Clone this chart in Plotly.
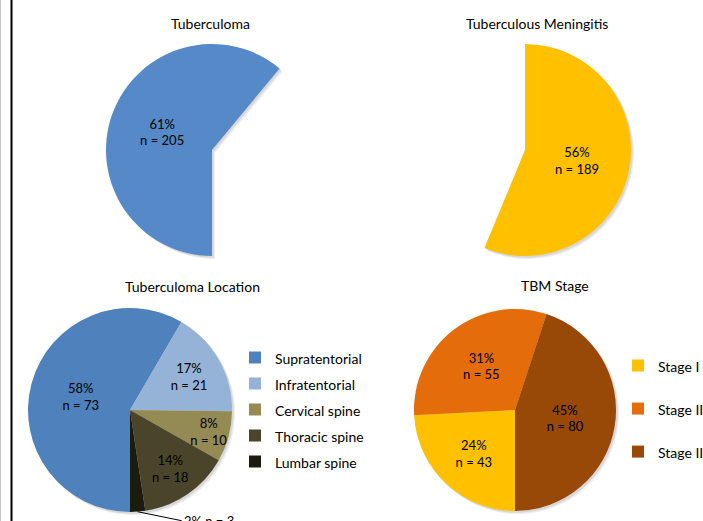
import math
import plotly.graph_objects as go

W, H = 703, 521
FONT = "Lato"

# ---------------- data ----------------
total_patients = 336
tb_title = "Tuberculoma"
tb_value = 205
tbm_title = "Tuberculous Meningitis"
tbm_value = 189

loc_title = "Tuberculoma Location"
loc_labels = ["Supratentorial", "Infratentorial", "Cervical spine", "Thoracic spine", "Lumbar spine"]
loc_values = [73, 21, 10, 18, 3]
loc_colors = ["#4F81BD", "#95B3D7", "#948A54", "#4A452A", "#1D1B10"]

stage_title = "TBM Stage"
stage_labels = ["Stage I", "Stage II", "Stage III"]
stage_values = [43, 55, 80]
stage_colors = ["#FFC000", "#E46C0A", "#984807"]

tb_color = "#5689C8"
tbm_color = "#FFC000"

TMPL = "%{percent:.0%}<br>n = %{value}"


def dom(cx, cy, r, dx=0, dy=0):
    cx += dx
    cy += dy
    return dict(x=[(cx - r) / W, (cx + r) / W], y=[1 - (cy + r) / H, 1 - (cy - r) / H])


LOC_GEO = (130, 410, 102)
LOC_ROT = 180

pies = [
    dict(values=[tb_value, total_patients - tb_value], colors=[tb_color, "rgba(0,0,0,0)"],
         tmpl=[TMPL, ""], rot=180, geo=(212, 150, 106),
         labels=[tb_title, "other"], legend=None),
    dict(values=[tbm_value, total_patients - tbm_value], colors=[tbm_color, "rgba(0,0,0,0)"],
         tmpl=[TMPL, ""], rot=0, geo=(525, 150, 106),
         labels=[tbm_title, "other"], legend=None),
    dict(values=loc_values, colors=loc_colors,
         tmpl=[TMPL] * 4 + [""], rot=LOC_ROT, geo=LOC_GEO, labels=loc_labels, legend="legend"),
    dict(values=stage_values, colors=stage_colors,
         tmpl=[TMPL] * 3, rot=180, geo=(515, 410, 101),
         labels=stage_labels, legend="legend2"),
]

fig = go.Figure()

# soft shadows
for p in pies:
    for off, a in ((3.0, 0.07), (1.8, 0.09)):
        cols = ["rgba(0,0,0,0)" if c.startswith("rgba(0,0,0,0)") else "rgba(0,0,0,%s)" % a
                for c in p["colors"]]
        fig.add_trace(go.Pie(
            values=p["values"], labels=p["labels"], sort=False, direction="clockwise",
            rotation=p["rot"], domain=dom(*p["geo"], dx=off, dy=off),
            marker=dict(colors=cols, line=dict(width=0)),
            textinfo="none", hoverinfo="skip", showlegend=False,
        ))

for p in pies:
    if p["legend"] == "legend":
        labs = ["<span style='font-size:14px'>%s</span>" % s for s in p["labels"]]
    elif p["legend"] == "legend2":
        labs = ["<span style='font-size:14px'>%s</span><br> " % s for s in p["labels"]]
    else:
        labs = p["labels"]
    kw = dict(legend=p["legend"]) if p["legend"] else {}
    fig.add_trace(go.Pie(
        values=p["values"], labels=labs, sort=False, direction="clockwise",
        rotation=p["rot"], domain=dom(*p["geo"]),
        marker=dict(colors=p["colors"], line=dict(width=0)),
        texttemplate=p["tmpl"], textposition="inside",
        insidetextorientation="horizontal",
        textfont=dict(family=FONT, size=13, color="#000000"),
        hoverinfo="skip", showlegend=p["legend"] is not None, **kw,
    ))

titles = [(tb_title, 210, 24), (tbm_title, 537, 24), (loc_title, 192, 286), (stage_title, 555, 285)]
annotations = [
    dict(text=t, x=x / W, y=1 - y / H, xref="paper", yref="paper", showarrow=False,
         xanchor="center", yanchor="middle", font=dict(family=FONT, size=14, color="#000000"))
    for t, x, y in titles
]

# leader-line label for the small lumbar slice, anchored at the slice's mid-angle on the rim
loc_total = sum(loc_values)
mid_frac = (sum(loc_values[:-1]) + loc_values[-1] / 2) / loc_total
ang = math.radians(LOC_ROT + 360 * mid_frac)
cx, cy, r = LOC_GEO
px, py = cx + r * math.sin(ang), cy - r * math.cos(ang)
annotations.append(dict(
    text="%d%% n = %d" % (round(100 * loc_values[-1] / loc_total), loc_values[-1]),
    x=px / W, y=1 - py / H, xref="paper", yref="paper",
    showarrow=True, arrowhead=0, arrowwidth=1, arrowcolor="#000000",
    ax=44, ay=9, xanchor="left", yanchor="middle",
    font=dict(family=FONT, size=13, color="#000000"),
))

fig.update_layout(
    width=W, height=H,
    margin=dict(l=0, r=0, t=0, b=0, autoexpand=False),
    paper_bgcolor="white", plot_bgcolor="white",
    annotations=annotations,
    uniformtext=dict(minsize=13, mode="show"),
    legend=dict(x=235 / W, y=1 - 410 / H, xanchor="left", yanchor="middle",
                font=dict(family=FONT, size=17.7, color="#000000"),
                bgcolor="rgba(0,0,0,0)", traceorder="normal"),
    legend2=dict(x=618 / W, y=1 - 419 / H, xanchor="left", yanchor="middle",
                 font=dict(family=FONT, size=15.4, color="#000000"), valign="top",
                 bgcolor="rgba(0,0,0,0)", traceorder="normal"),
    shapes=[
        dict(type="line", xref="paper", yref="paper", x0=0.5 / W, x1=0.5 / W, y0=0, y1=1,
             line=dict(color="#C8C8C8", width=1)),
        dict(type="line", xref="paper", yref="paper", x0=11.5 / W, x1=11.5 / W, y0=0, y1=1,
             line=dict(color="#000000", width=2)),
    ],
)

fig.write_html("out.html")
